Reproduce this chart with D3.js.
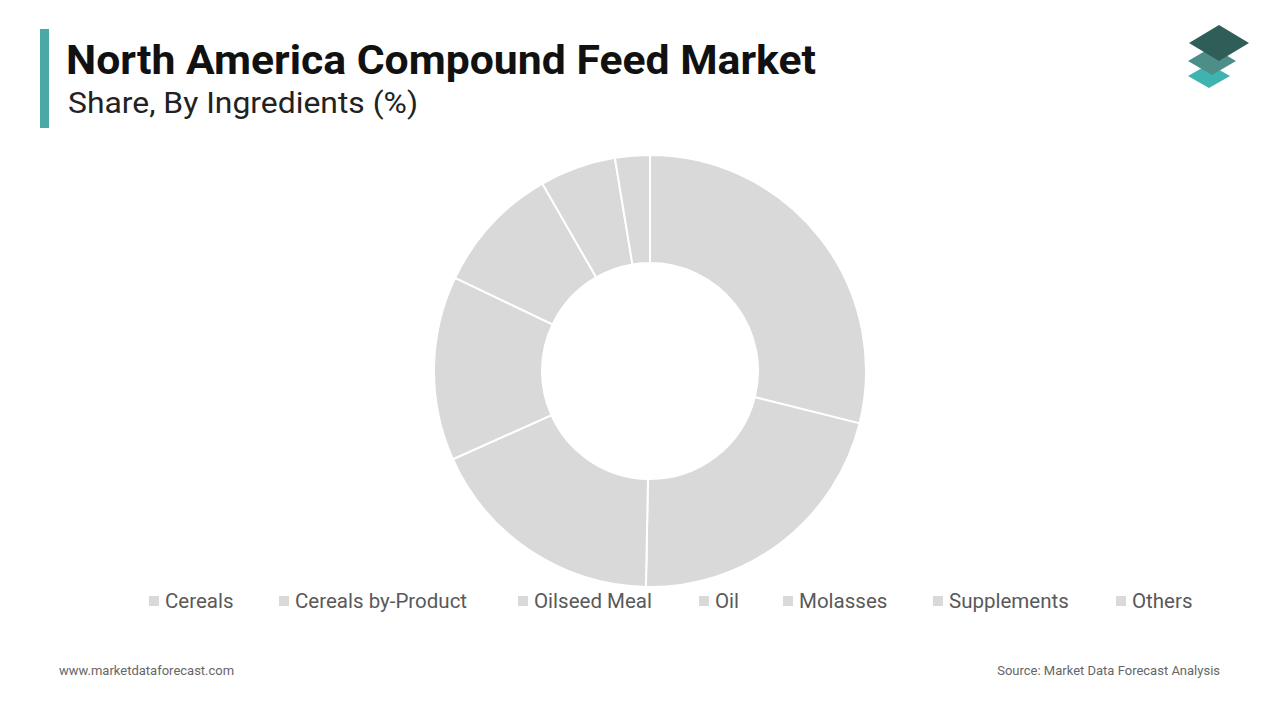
<!DOCTYPE html>
<html><head><meta charset="utf-8">
<script src="https://cdn.jsdelivr.net/npm/d3@7"></script>
<style>body{margin:0;background:#fff;font-family:Roboto,"Noto Sans",sans-serif}</style>
</head><body>
<svg width="1280" height="720"></svg>
<script>
const categories = ["Cereals", "Cereals by-Product", "Oilseed Meal", "Oil", "Molasses", "Supplements", "Others"];
const shares = [28.9, 21.4, 18.0, 13.8, 9.6, 5.7, 2.6];

const svg = d3.select("svg");

// header
svg.append("rect").attr("x", 40).attr("y", 29).attr("width", 9).attr("height", 99).attr("fill", "#4aa9a5");
svg.append("text").attr("x", 66).attr("y", 74).attr("font-size", 40).attr("font-weight", 700)
  .attr("fill", "#111").attr("textLength", 750).attr("lengthAdjust", "spacingAndGlyphs")
  .text("North America Compound Feed Market");
svg.append("text").attr("x", 68).attr("y", 113).attr("font-size", 29).attr("fill", "#222")
  .attr("textLength", 350).attr("lengthAdjust", "spacingAndGlyphs")
  .text("Share, By Ingredients (%)");

// logo
const logo = svg.append("g");
[[1209, 76, "#3fb3b0", 21, 12], [1212, 61, "#4d8f88", 24, 14], [1219, 43, "#2f5e58", 30, 18]].forEach(([cx, cy, c, w, h]) => {
  logo.append("polygon")
    .attr("points", `${cx},${cy - h} ${cx + w},${cy} ${cx},${cy + h} ${cx - w},${cy}`)
    .attr("fill", c);
});

// donut
const pie = d3.pie().sort(null).value((d) => d)(shares);
const arc = d3.arc().innerRadius(108).outerRadius(216);
svg.append("g").attr("transform", "translate(650,371)")
  .selectAll("path").data(pie).join("path")
  .attr("d", arc).attr("fill", "#d9d9d9").attr("stroke", "#fff").attr("stroke-width", 2);

// legend
const legendX = [149, 279, 518, 699, 783, 933, 1116];
const lg = svg.append("g").selectAll("g").data(categories).join("g")
  .attr("transform", (d, i) => `translate(${legendX[i]},601)`);
lg.append("rect").attr("x", 0).attr("y", -5).attr("width", 10).attr("height", 10).attr("fill", "#d9d9d9");
lg.append("text").attr("x", 16).attr("y", 7).attr("font-size", 20.5).attr("fill", "#595959").text((d) => d);

// footer
svg.append("text").attr("x", 59).attr("y", 675).attr("font-size", 13).attr("fill", "#666").text("www.marketdataforecast.com");
svg.append("text").attr("x", 1220).attr("y", 675).attr("font-size", 13).attr("fill", "#666")
  .attr("text-anchor", "end").text("Source: Market Data Forecast Analysis");
</script>
</body></html>
